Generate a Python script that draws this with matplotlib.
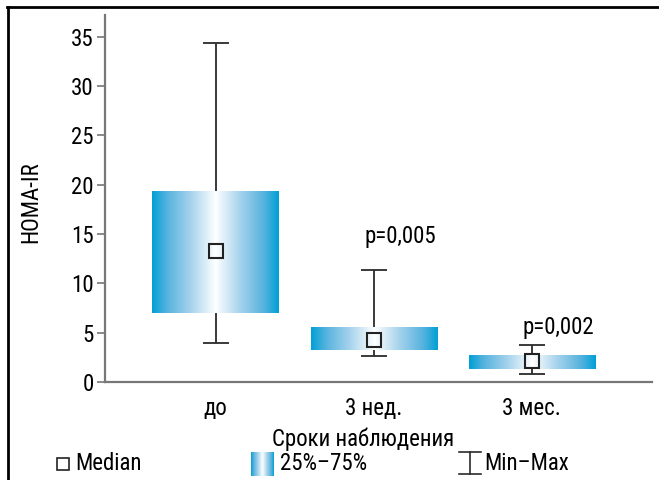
import numpy as np
import matplotlib
matplotlib.use('Agg')
import matplotlib.pyplot as plt
from matplotlib.colors import LinearSegmentedColormap
from matplotlib.lines import Line2D

plt.rcParams['font.family'] = ['Roboto Condensed', 'Liberation Sans Narrow', 'Roboto', 'DejaVu Sans']

# data
groups = ['до', '3 нед.', '3 мес.']
medians = [13.3, 4.3, 2.1]
q25 = [7.0, 3.2, 1.35]
q75 = [19.3, 5.5, 2.75]
mins = [4.0, 2.6, 0.8]
maxs = [34.4, 11.4, 3.7]
p_labels = ['', 'p=0,005', 'p=0,002']
p_y = [0, 14.7, 5.5]
y_ticks = [0, 5, 10, 15, 20, 25, 30, 35]

blue = '#00a0d6'
grad = LinearSegmentedColormap.from_list(
    'grad', [(0, blue), (0.12, '#58b3de'), (0.3, '#a3d2ec'), (0.5, 'white'),
             (0.7, '#a3d2ec'), (0.88, '#58b3de'), (1, blue)])
strip = np.linspace(0, 1, 256).reshape(1, -1)

fs = 16.5

fig = plt.figure(figsize=(6.59, 4.80), dpi=100)
ax = fig.add_axes([105 / 659, 1 - 382 / 480, 547 / 659, 367 / 480])

x = np.arange(len(groups))
half = 0.40
for i in range(len(groups)):
    mid = (mins[i] + maxs[i]) / 2
    ax.errorbar(x[i], mid, yerr=[[mid - mins[i]], [maxs[i] - mid]],
                fmt='none', ecolor='#2b2b2b', elinewidth=1.3, capsize=9.5, capthick=1.3, zorder=1)
    ax.imshow(strip, cmap=grad, aspect='auto', interpolation='bicubic',
              extent=[x[i] - half, x[i] + half, q25[i], q75[i]], zorder=2)
    if p_labels[i]:
        ax.text(x[i] + 0.17, p_y[i], p_labels[i], ha='center', va='center', fontsize=fs)

ax.plot(x, medians, linestyle='none', marker='s', markersize=10,
        mfc='none', mec='#222222', mew=1.5, zorder=3)

ax.set_xlim(-0.70, 2.76)
ax.set_ylim(0, 37.2)
ax.set_yticks(y_ticks)
ax.set_xticks(x)
ax.set_xticklabels(groups)
ax.tick_params(axis='y', length=6, width=1.2, color='#777777', labelsize=fs, pad=2)
ax.tick_params(axis='x', length=0, labelsize=fs, pad=11)
for s in ['top', 'right']:
    ax.spines[s].set_visible(False)
for s in ['left', 'bottom']:
    ax.spines[s].set_color('#777777')
    ax.spines[s].set_linewidth(1.6)
ax.set_xlabel('Сроки наблюдения', fontsize=fs)
ax.xaxis.set_label_coords(0.472, -0.125)
ax.set_ylabel('HOMA-IR', fontsize=fs)
ax.yaxis.set_label_coords(-0.115, 0.49)

# outer frame (top and left edges)
fig.add_artist(Line2D([7 / 659, 1], [1 - 7 / 480] * 2, transform=fig.transFigure, color='black', lw=2))
fig.add_artist(Line2D([8 / 659] * 2, [0, 1 - 7 / 480], transform=fig.transFigure, color='black', lw=2))

# legend row
ly = 1 - 464 / 480
fig.add_artist(Line2D([63 / 659], [ly], transform=fig.transFigure, marker='s', markersize=8,
                      mfc='none', mec='#222222', mew=1.2, linestyle='none'))
fig.text(75 / 659, ly, 'Median', fontsize=fs, va='center')
lax = fig.add_axes([251 / 659, 1 - 476 / 480, 23 / 659, 24 / 480])
lax.imshow(strip, cmap=grad, aspect='auto', interpolation='bicubic')
lax.axis('off')
fig.text(280 / 659, ly, '25%–75%', fontsize=fs, va='center')
ix, it, ib = 470 / 659, 1 - 452 / 480, 1 - 474 / 480
fig.add_artist(Line2D([ix, ix], [ib, it], transform=fig.transFigure, color='#2b2b2b', lw=1.2))
fig.add_artist(Line2D([459 / 659, 481 / 659], [it, it], transform=fig.transFigure, color='#2b2b2b', lw=1.2))
fig.add_artist(Line2D([459 / 659, 481 / 659], [ib, ib], transform=fig.transFigure, color='#2b2b2b', lw=1.2))
fig.text(484 / 659, ly, 'Min–Max', fontsize=fs, va='center')

fig.savefig('out.png', dpi=100)
